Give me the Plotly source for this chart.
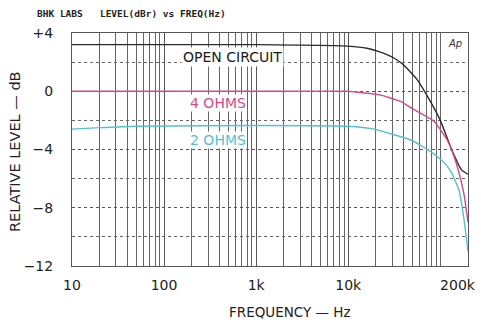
import plotly.graph_objects as go

# Data
freq_oc = [10, 100, 1000, 10000, 16000, 22000, 31000, 40000, 56000, 78000, 100000, 135000, 170000, 200000]
lvl_oc = [3.2, 3.2, 3.2, 3.1, 2.95, 2.7, 2.3, 1.8, 0.8, -0.7, -2.0, -4.1, -5.4, -5.7]

freq_4 = [10, 100, 1000, 10000, 12000, 22000, 37000, 50000, 85000, 120000, 150000, 180000, 200000]
lvl_4 = [0.0, 0.0, 0.0, 0.0, -0.05, -0.25, -0.7, -1.2, -2.05, -3.4, -5.0, -7.0, -9.0]

freq_2 = [10, 20, 50, 1000, 10000, 19000, 50000, 85000, 110000, 130000, 160000, 180000, 200000]
lvl_2 = [-2.6, -2.5, -2.4, -2.35, -2.4, -2.6, -3.4, -4.3, -4.9, -5.5, -6.8, -8.7, -11.0]

x_tickvals = [10, 100, 1000, 10000, 200000]
x_ticktext = ["10", "100", "1k", "10k", "200k\u2002\u2002\u2002"]
y_tickvals = [4, 0, -4, -8, -12]
y_ticktext = ["+4", "0", "\u22124", "\u22128", "\u221212"]

series = [
    ("OPEN CIRCUIT", freq_oc, lvl_oc, "#2a2a2a"),
    ("4 OHMS", freq_4, lvl_4, "#d44a88"),
    ("2 OHMS", freq_2, lvl_2, "#52c2ce"),
]

fig = go.Figure()
for name, f, v, c in series:
    fig.add_trace(go.Scatter(x=f, y=v, mode="lines", name=name,
                             line=dict(color=c, width=1.4, shape="spline", smoothing=0.5)))

font = "DejaVu Sans, Liberation Sans, sans-serif"
PW, PH = 396, 233  # plot area in px
def px(xp):
    return (xp - 72) / PW
def py(yp):
    return 1 - (yp - 33) / PH

def ann(text, x, y, size, color, fam=font, **kw):
    return dict(text=text, x=px(x), y=py(y), xref="paper", yref="paper",
                xanchor="center", yanchor="middle", showarrow=False,
                font=dict(family=fam, size=size, color=color), **kw)

fig.update_layout(
    width=481, height=323,
    margin=dict(l=72, r=13, t=33, b=57),
    paper_bgcolor="white", plot_bgcolor="white",
    showlegend=False,
    xaxis=dict(
        type="log", range=[1, 5.30103], automargin=False,
        tickvals=x_tickvals, ticktext=x_ticktext, ticklabeloverflow="allow",
        showgrid=True, gridcolor="#555555", gridwidth=1.3,
        minor=dict(dtick="D1", showgrid=True, gridcolor="#666666", gridwidth=1, ticks=""),
        ticks="", ticklabelstandoff=6,
        tickfont=dict(family=font, size=14, color="#222"),
        showline=True, linecolor="#555", linewidth=1, mirror=True,
        zeroline=False,
    ),
    yaxis=dict(
        range=[-12, 4], automargin=False,
        tickvals=y_tickvals, ticktext=y_ticktext,
        showgrid=True, gridcolor="#555555", gridwidth=1, griddash="dot",
        minor=dict(dtick=2, showgrid=True, gridcolor="#666666", gridwidth=1, griddash="dot", ticks=""),
        ticks="", ticklabelstandoff=15,
        tickfont=dict(family=font, size=14, color="#222"),
        showline=True, linecolor="#555", linewidth=1, mirror=True,
        zeroline=False,
    ),
    annotations=[
        ann("OPEN CIRCUIT", 232, 57, 14, "#1a1a1a", bgcolor="white", borderpad=1),
        ann("4 OHMS", 218, 103, 14, "#d44a88", bgcolor="white", borderpad=0),
        ann("2 OHMS", 218, 140, 14, "#52c2ce", bgcolor="white", borderpad=0),
        ann("<i>Ap</i>", 455, 44, 10, "#333"),
        ann("<b>BHK LABS   LEVEL(dBr) vs FREQ(Hz)</b>", 131, 14, 9.5, "#222",
            fam="DejaVu Sans Mono, monospace"),
        ann("RELATIVE LEVEL \u2014 dB", 15, 152, 14.5, "#222", textangle=-90),
        ann("FREQUENCY \u2014 Hz", 290, 312, 13.5, "#222"),
    ],
)

fig.write_html(
    "out.html",
    config={"displayModeBar": False},
    post_script="document.body.style.margin='0';document.documentElement.style.overflow='hidden';",
)
